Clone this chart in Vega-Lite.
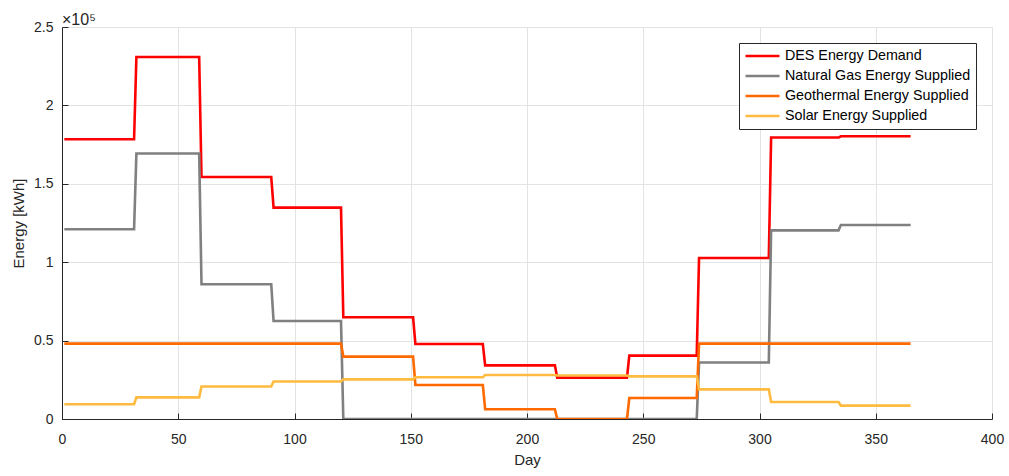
{
  "$schema": "https://vega.github.io/schema/vega-lite/v6.json",
  "width": 930,
  "height": 392,
  "autosize": {"type": "none"},
  "padding": {"left": 62, "top": 27, "right": 17, "bottom": 57},
  "background": "white",
  "title": {"text": "×10⁵", "anchor": "start", "frame": "group", "fontSize": 16, "font": "Liberation Sans", "fontWeight": "normal", "color": "#262626", "offset": 4, "dy": 12},
  "config": {
    "view": {"stroke": null},
    "font": "Liberation Sans",
    "axis": {"gridColor": "#E3E3E3", "gridOpacity": 1, "domainColor": "#262626", "tickColor": "#262626", "labelColor": "#262626", "titleColor": "#262626", "labelFont": "Liberation Sans", "titleFont": "Liberation Sans", "labelFontSize": 14, "titleFontSize": 15, "titleFontWeight": "normal"}
  },
  "data": {"values": [
    {"day": 1, "energy": 178400, "series": "DES Energy Demand"},
    {"day": 31, "energy": 178400, "series": "DES Energy Demand"},
    {"day": 32, "energy": 230900, "series": "DES Energy Demand"},
    {"day": 59, "energy": 230900, "series": "DES Energy Demand"},
    {"day": 60, "energy": 154300, "series": "DES Energy Demand"},
    {"day": 90, "energy": 154300, "series": "DES Energy Demand"},
    {"day": 91, "energy": 134800, "series": "DES Energy Demand"},
    {"day": 120, "energy": 134800, "series": "DES Energy Demand"},
    {"day": 121, "energy": 64900, "series": "DES Energy Demand"},
    {"day": 151, "energy": 64900, "series": "DES Energy Demand"},
    {"day": 152, "energy": 47800, "series": "DES Energy Demand"},
    {"day": 181, "energy": 47800, "series": "DES Energy Demand"},
    {"day": 182, "energy": 34200, "series": "DES Energy Demand"},
    {"day": 212, "energy": 34200, "series": "DES Energy Demand"},
    {"day": 213, "energy": 26400, "series": "DES Energy Demand"},
    {"day": 243, "energy": 26400, "series": "DES Energy Demand"},
    {"day": 244, "energy": 40400, "series": "DES Energy Demand"},
    {"day": 273, "energy": 40400, "series": "DES Energy Demand"},
    {"day": 274, "energy": 102700, "series": "DES Energy Demand"},
    {"day": 304, "energy": 102700, "series": "DES Energy Demand"},
    {"day": 305, "energy": 179500, "series": "DES Energy Demand"},
    {"day": 334, "energy": 179500, "series": "DES Energy Demand"},
    {"day": 335, "energy": 180300, "series": "DES Energy Demand"},
    {"day": 365, "energy": 180300, "series": "DES Energy Demand"},

    {"day": 1, "energy": 121000, "series": "Natural Gas Energy Supplied"},
    {"day": 31, "energy": 121000, "series": "Natural Gas Energy Supplied"},
    {"day": 32, "energy": 169300, "series": "Natural Gas Energy Supplied"},
    {"day": 59, "energy": 169300, "series": "Natural Gas Energy Supplied"},
    {"day": 60, "energy": 85900, "series": "Natural Gas Energy Supplied"},
    {"day": 90, "energy": 85900, "series": "Natural Gas Energy Supplied"},
    {"day": 91, "energy": 62500, "series": "Natural Gas Energy Supplied"},
    {"day": 120, "energy": 62500, "series": "Natural Gas Energy Supplied"},
    {"day": 121, "energy": 0, "series": "Natural Gas Energy Supplied"},
    {"day": 151, "energy": 0, "series": "Natural Gas Energy Supplied"},
    {"day": 152, "energy": 0, "series": "Natural Gas Energy Supplied"},
    {"day": 181, "energy": 0, "series": "Natural Gas Energy Supplied"},
    {"day": 182, "energy": 0, "series": "Natural Gas Energy Supplied"},
    {"day": 212, "energy": 0, "series": "Natural Gas Energy Supplied"},
    {"day": 213, "energy": 0, "series": "Natural Gas Energy Supplied"},
    {"day": 243, "energy": 0, "series": "Natural Gas Energy Supplied"},
    {"day": 244, "energy": 0, "series": "Natural Gas Energy Supplied"},
    {"day": 273, "energy": 0, "series": "Natural Gas Energy Supplied"},
    {"day": 274, "energy": 36000, "series": "Natural Gas Energy Supplied"},
    {"day": 304, "energy": 36000, "series": "Natural Gas Energy Supplied"},
    {"day": 305, "energy": 120300, "series": "Natural Gas Energy Supplied"},
    {"day": 334, "energy": 120300, "series": "Natural Gas Energy Supplied"},
    {"day": 335, "energy": 123700, "series": "Natural Gas Energy Supplied"},
    {"day": 365, "energy": 123700, "series": "Natural Gas Energy Supplied"},

    {"day": 1, "energy": 48100, "series": "Geothermal Energy Supplied"},
    {"day": 31, "energy": 48100, "series": "Geothermal Energy Supplied"},
    {"day": 32, "energy": 48100, "series": "Geothermal Energy Supplied"},
    {"day": 59, "energy": 48100, "series": "Geothermal Energy Supplied"},
    {"day": 60, "energy": 48100, "series": "Geothermal Energy Supplied"},
    {"day": 90, "energy": 48100, "series": "Geothermal Energy Supplied"},
    {"day": 91, "energy": 48100, "series": "Geothermal Energy Supplied"},
    {"day": 120, "energy": 48100, "series": "Geothermal Energy Supplied"},
    {"day": 121, "energy": 39800, "series": "Geothermal Energy Supplied"},
    {"day": 151, "energy": 39800, "series": "Geothermal Energy Supplied"},
    {"day": 152, "energy": 21700, "series": "Geothermal Energy Supplied"},
    {"day": 181, "energy": 21700, "series": "Geothermal Energy Supplied"},
    {"day": 182, "energy": 6200, "series": "Geothermal Energy Supplied"},
    {"day": 212, "energy": 6200, "series": "Geothermal Energy Supplied"},
    {"day": 213, "energy": 0, "series": "Geothermal Energy Supplied"},
    {"day": 243, "energy": 0, "series": "Geothermal Energy Supplied"},
    {"day": 244, "energy": 13400, "series": "Geothermal Energy Supplied"},
    {"day": 273, "energy": 13400, "series": "Geothermal Energy Supplied"},
    {"day": 274, "energy": 48100, "series": "Geothermal Energy Supplied"},
    {"day": 304, "energy": 48100, "series": "Geothermal Energy Supplied"},
    {"day": 305, "energy": 48100, "series": "Geothermal Energy Supplied"},
    {"day": 334, "energy": 48100, "series": "Geothermal Energy Supplied"},
    {"day": 335, "energy": 48100, "series": "Geothermal Energy Supplied"},
    {"day": 365, "energy": 48100, "series": "Geothermal Energy Supplied"},

    {"day": 1, "energy": 9400, "series": "Solar Energy Supplied"},
    {"day": 31, "energy": 9400, "series": "Solar Energy Supplied"},
    {"day": 32, "energy": 13800, "series": "Solar Energy Supplied"},
    {"day": 59, "energy": 13800, "series": "Solar Energy Supplied"},
    {"day": 60, "energy": 20700, "series": "Solar Energy Supplied"},
    {"day": 90, "energy": 20700, "series": "Solar Energy Supplied"},
    {"day": 91, "energy": 23900, "series": "Solar Energy Supplied"},
    {"day": 120, "energy": 23900, "series": "Solar Energy Supplied"},
    {"day": 121, "energy": 25300, "series": "Solar Energy Supplied"},
    {"day": 151, "energy": 25300, "series": "Solar Energy Supplied"},
    {"day": 152, "energy": 26600, "series": "Solar Energy Supplied"},
    {"day": 181, "energy": 26600, "series": "Solar Energy Supplied"},
    {"day": 182, "energy": 28100, "series": "Solar Energy Supplied"},
    {"day": 212, "energy": 28100, "series": "Solar Energy Supplied"},
    {"day": 213, "energy": 27700, "series": "Solar Energy Supplied"},
    {"day": 243, "energy": 27700, "series": "Solar Energy Supplied"},
    {"day": 244, "energy": 27200, "series": "Solar Energy Supplied"},
    {"day": 273, "energy": 27200, "series": "Solar Energy Supplied"},
    {"day": 274, "energy": 18900, "series": "Solar Energy Supplied"},
    {"day": 304, "energy": 18900, "series": "Solar Energy Supplied"},
    {"day": 305, "energy": 10800, "series": "Solar Energy Supplied"},
    {"day": 334, "energy": 10800, "series": "Solar Energy Supplied"},
    {"day": 335, "energy": 8500, "series": "Solar Energy Supplied"},
    {"day": 365, "energy": 8500, "series": "Solar Energy Supplied"}
  ]},
  "mark": {"type": "line", "strokeWidth": 2.6, "clip": true},
  "encoding": {
    "x": {"field": "day", "type": "quantitative", "scale": {"domain": [0, 400], "nice": false}, "axis": {"title": "Day", "values": [0, 50, 100, 150, 200, 250, 300, 350, 400], "tickSize": -6, "labelPadding": 19, "labelFlush": false, "titlePadding": 6}},
    "y": {"field": "energy", "type": "quantitative", "scale": {"domain": [0, 250000], "nice": false}, "axis": {"title": "Energy [kWh]", "values": [0, 50000, 100000, 150000, 200000, 250000], "labelExpr": "datum.value / 100000", "tickSize": -6, "labelPadding": 15, "labelFlush": false, "titlePadding": 7}},
    "color": {"field": "series", "type": "nominal", "sort": null,
      "scale": {"domain": ["DES Energy Demand", "Natural Gas Energy Supplied", "Geothermal Energy Supplied", "Solar Energy Supplied"], "range": ["#FF0000", "#808080", "#FF6A00", "#FFBA40"]},
      "legend": {"title": null, "orient": "none", "legendX": 677, "legendY": 16, "symbolType": "stroke", "symbolSize": 1156, "symbolStrokeWidth": 2.6, "clipHeight": 16, "labelFontSize": 14.3, "labelFont": "Liberation Sans", "labelColor": "#000000", "strokeColor": "#262626", "fillColor": "white", "padding": 5, "rowPadding": 4, "labelOffset": 4, "labelLimit": 400}
    }
  }
}
